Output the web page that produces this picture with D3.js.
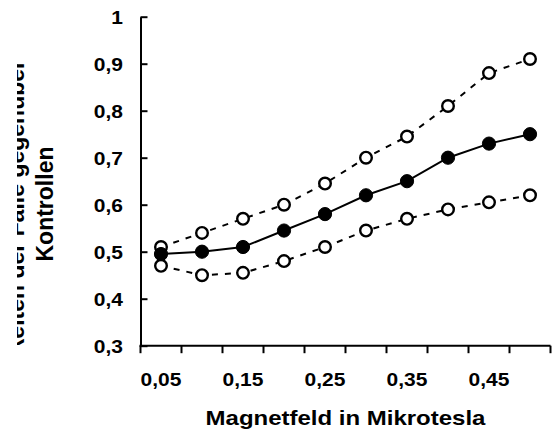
<!DOCTYPE html>
<html>
<head>
<meta charset="utf-8">
<script src="https://cdn.jsdelivr.net/npm/d3@7"></script>
<style>
  html, body { margin: 0; padding: 0; background: #fff; }
  svg { display: block; }
  text { font-family: "Liberation Sans", Arial, sans-serif; font-weight: bold; fill: #000; }
</style>
</head>
<body>
<svg id="chart" width="556" height="430"></svg>
<script>
const categories = [0.05, 0.10, 0.15, 0.20, 0.25, 0.30, 0.35, 0.40, 0.45, 0.50];
const tickLabels = ["0,05", "0,15", "0,25", "0,35", "0,45"];
const meanValues  = [0.495, 0.50, 0.51, 0.545, 0.58, 0.62, 0.65, 0.70, 0.73, 0.75];
const upperValues = [0.51, 0.54, 0.57, 0.60, 0.645, 0.70, 0.745, 0.81, 0.88, 0.91];
const lowerValues = [0.47, 0.45, 0.455, 0.48, 0.51, 0.545, 0.57, 0.59, 0.605, 0.62];
const yTicks = [0.3, 0.4, 0.5, 0.6, 0.7, 0.8, 0.9, 1.0];
const yTitleLines = ["Häufigkeiten der Fälle gegenüber", "Kontrollen"];
const xTitle = "Magnetfeld in Mikrotesla";

const svg = d3.select("#chart");
const locale = d3.formatLocale({decimal: ",", thousands: ".", grouping: [3], currency: ["", "€"]});
const fmtY = locale.format(".1~f");
const catLabel = c => locale.format(".2f")(c);

const x = d3.scaleBand().domain(categories).range([140.5, 550.5]).padding(0);
const y = d3.scaleLinear().domain([0.3, 1]).range([345.7, 16.7]);
const SX = 1.2;

// Y axis
const yAxis = svg.append("g").attr("transform", `translate(${x.range()[0]},0)`)
  .call(d3.axisLeft(y).tickValues(yTicks).tickSize(-7).tickSizeOuter(0).tickFormat(fmtY));
yAxis.select(".domain").attr("stroke", "#000").attr("stroke-width", 2);
yAxis.selectAll(".tick line").attr("stroke", "#000").attr("stroke-width", 2);
yAxis.selectAll(".tick text")
  .attr("x", -17.5 / SX).attr("y", 0).attr("dy", "0.36em")
  .attr("transform", `scale(${SX},1)`)
  .style("font-size", "17.5px").attr("fill", "#000").attr("font-family", null);

// X axis (labels at band centres, ticks at band edges)
const xAxis = svg.append("g").attr("transform", `translate(0,${y(0.3)})`)
  .call(d3.axisBottom(x).tickSize(0).tickSizeOuter(0)
    .tickFormat(c => tickLabels.includes(catLabel(c)) ? catLabel(c) : ""));
xAxis.select(".domain").attr("stroke", "#000").attr("stroke-width", 2)
  .attr("d", `M${x.range()[0] - 1},0H${x.range()[1]}`);
xAxis.selectAll(".tick line").remove();
xAxis.selectAll(".tick text")
  .attr("y", 40.5).attr("dy", 0)
  .attr("transform", `scale(${SX},1)`)
  .style("font-size", "17.5px").attr("fill", "#000").attr("font-family", null);
const edges = categories.map(c => x(c)).concat([x.range()[1]]);
xAxis.selectAll("line.edge").data(edges).join("line").attr("class", "edge")
  .attr("x1", d => d).attr("x2", d => d).attr("y1", 0).attr("y2", 7.5)
  .attr("stroke", "#000").attr("stroke-width", 2);

// Y title (clipped as in the reference)
svg.append("clipPath").attr("id", "ytclip")
  .append("rect").attr("x", 17).attr("y", 0).attr("width", 200).attr("height", 345);
const yt = svg.append("g").attr("clip-path", "url(#ytclip)");
yt.append("text").attr("transform", "translate(23.5,60) rotate(-90)")
  .attr("text-anchor", "end").style("font-size", "23px").text(yTitleLines[0]);
yt.append("text").attr("transform", "translate(53,204) rotate(-90)")
  .attr("text-anchor", "middle").style("font-size", "23px").text(yTitleLines[1]);

// X title
svg.append("text").attr("transform", `translate(${(x.range()[0] + x.range()[1]) / 2},425) scale(${SX},1)`)
  .attr("text-anchor", "middle").style("font-size", "20px").text(xTitle);

// Series
const cx = c => x(c) + x.bandwidth() / 2;
function drawSeries(values, dashed, filled) {
  const g = svg.append("g");
  const line = d3.line().x((d, i) => cx(categories[i])).y(d => y(d));
  g.append("path").datum(values).attr("d", line)
    .attr("fill", "none").attr("stroke", "#000").attr("stroke-width", 2)
    .attr("stroke-dasharray", dashed ? "6,7" : null);
  g.selectAll("circle").data(values).join("circle")
    .attr("cx", (d, i) => cx(categories[i])).attr("cy", d => y(d))
    .attr("r", filled ? 6.6 : 5.8)
    .attr("fill", filled ? "#000" : "#fff")
    .attr("stroke", "#000").attr("stroke-width", filled ? 1 : 2.4);
}
drawSeries(upperValues, true, false);
drawSeries(lowerValues, true, false);
drawSeries(meanValues, false, true);
</script>
</body>
</html>
